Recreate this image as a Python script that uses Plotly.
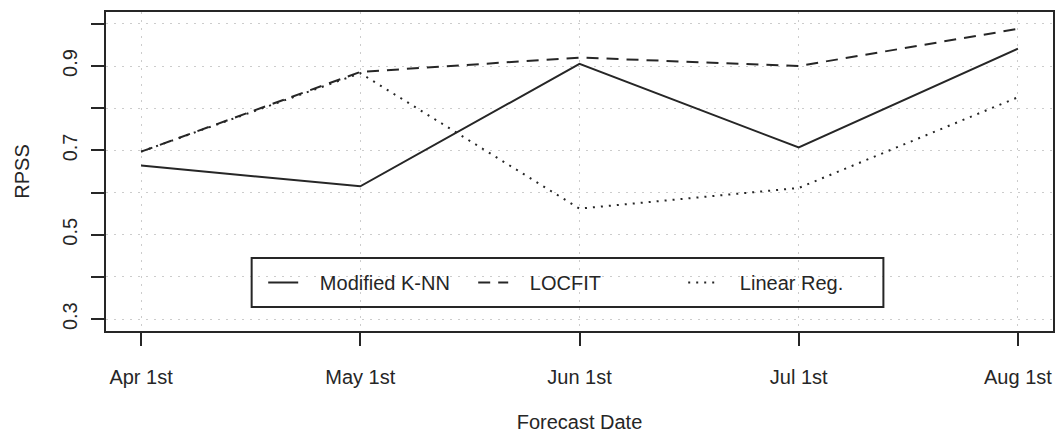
import plotly.graph_objects as go

# Forecast issue dates and RPSS skill per method
dates = ["Apr 1st", "May 1st", "Jun 1st", "Jul 1st", "Aug 1st"]
knn = [0.664, 0.615, 0.905, 0.707, 0.941]
locfit = [0.697, 0.886, 0.920, 0.900, 0.988]
linreg = [0.697, 0.883, 0.562, 0.611, 0.826]

y_ticks = [0.3, 0.4, 0.5, 0.6, 0.7, 0.8, 0.9, 1.0]
y_labels = ["0.3", "", "0.5", "", "0.7", "", "0.9", ""]

INK = "#262626"
FONT = dict(family="Liberation Sans, Arial, sans-serif", size=20, color=INK)
NB = "\u00a0"

fig = go.Figure()
series = [
    ("Modified K-NN", knn, "solid"),
    ("LOCFIT", locfit, "12px,8px"),
    ("Linear Reg.", linreg, "2px,6px"),
]
for name, vals, dash in series:
    fig.add_trace(go.Scatter(
        x=dates, y=vals, mode="lines", name=NB * 3 + name,
        line=dict(color=INK, width=2, dash=dash),
    ))

axis_common = dict(
    showline=True, mirror=True, linecolor=INK, linewidth=2,
    ticks="outside", ticklen=13, tickwidth=2, tickcolor=INK,
    showgrid=True, gridcolor="#cccccc", gridwidth=1, griddash="2px,6px",
    zeroline=False, tickfont=FONT,
)

fig.update_xaxes(
    type="category", range=[-0.16, 4.16],
    title=dict(text="Forecast Date", font=FONT, standoff=28),
    ticklabelstandoff=14,
    **axis_common,
)
fig.update_yaxes(
    range=[0.272, 1.028], tickvals=y_ticks, ticktext=y_labels, tickangle=-90,
    title=dict(text="RPSS", font=FONT, standoff=24),
    ticklabelstandoff=6,
    **axis_common,
)

# legend frame (transparent fill, grid shows through)
fig.add_shape(
    type="rect", xref="paper", yref="paper",
    x0=0.1538, x1=0.8209, y0=0.0752, y1=0.2288,
    line=dict(color=INK, width=2), fillcolor="rgba(0,0,0,0)", layer="above",
)

fig.update_layout(
    width=1061, height=439,
    margin=dict(l=106, r=6, t=12, b=108),
    plot_bgcolor="white", paper_bgcolor="white",
    font=FONT,
    showlegend=True,
    legend=dict(
        orientation="h", x=0.166, y=0.152, xanchor="left", yanchor="middle",
        bgcolor="rgba(0,0,0,0)", borderwidth=0,
        entrywidth=165, entrywidthmode="pixels",
        font=FONT,
    ),
)

fig.write_html("out.html")
